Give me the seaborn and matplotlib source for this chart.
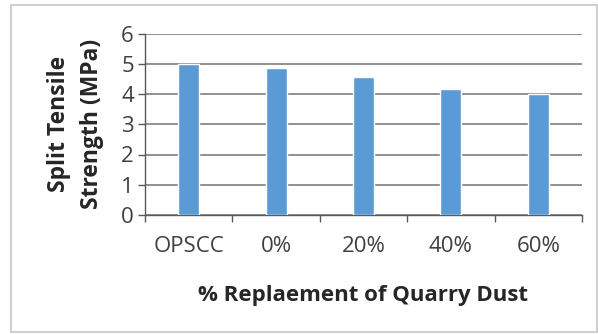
import matplotlib
matplotlib.use("Agg")
import matplotlib.pyplot as plt
import seaborn as sns
import pandas as pd
from matplotlib.patches import Rectangle

categories = ["OPSCC", "0%", "20%", "40%", "60%"]
values = [5.0, 4.87, 4.55, 4.16, 3.99]
yticks = [0, 1, 2, 3, 4, 5, 6]

df = pd.DataFrame({"cat": categories, "val": values})

sns.set_theme(style="white")
plt.rcParams["font.family"] = ["Open Sans", "DejaVu Sans"]

fig = plt.figure(figsize=(5.98, 3.34), dpi=100)
ax = fig.add_axes([145/598, 1-215/334, (582-145)/598, (215-33.5)/334])

sns.barplot(data=df, x="cat", y="val", ax=ax, color="#5b9bd5", saturation=1,
            width=0.24, zorder=3)

ax.set_ylim(0, 6)
ax.set_yticks(yticks)
ax.set_xlim(-0.5, len(categories) - 0.5)
ax.yaxis.grid(True, color="#7f7f7f", linewidth=1.2, zorder=0)
ax.set_axisbelow(True)
for s in ["top", "right"]:
    ax.spines[s].set_visible(False)
for s in ["left", "bottom"]:
    ax.spines[s].set_color("#595959")
    ax.spines[s].set_linewidth(1.0)

ax.tick_params(axis="y", direction="out", length=5, width=1, color="#595959",
               left=True, labelsize=16, labelcolor="#404040", pad=3)
ax.set_xticks(range(len(categories)))
ax.set_xticklabels(categories)
ax.tick_params(axis="x", bottom=False, labelsize=16, labelcolor="#404040", pad=9)
# category boundary ticks
ax.set_xticks([i - 0.5 for i in range(len(categories) + 1)], minor=True)
ax.tick_params(axis="x", which="minor", bottom=True, direction="out", length=5,
               width=1, color="#595959")

ax.set_ylabel("Split Tensile\nStrength (MPa)", fontsize=16.5, fontweight="bold",
              color="#262626", labelpad=12, linespacing=1.55)
ax.set_xlabel("% Replaement of Quarry Dust", fontsize=16, fontweight="bold",
              color="#262626", labelpad=20)

fig.patches.append(Rectangle((11/598, 1-332/334), (597-11)/598, (332-5)/334,
                             transform=fig.transFigure, fill=False,
                             edgecolor="#d0d0d0", linewidth=1.5))

fig.savefig("out.png", dpi=100)
